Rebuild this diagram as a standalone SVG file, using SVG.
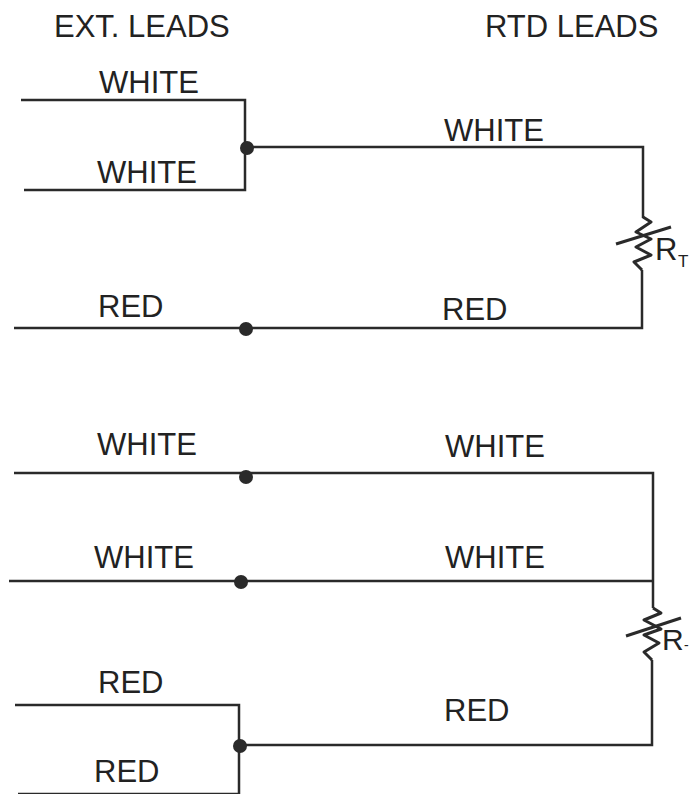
<svg xmlns="http://www.w3.org/2000/svg" width="689" height="794" viewBox="0 0 689 794">
<style>
text{font-family:"Liberation Sans",Arial,sans-serif;font-size:31px;fill:#222}
.w{fill:none;stroke:#2a2a2a;stroke-width:2.5;stroke-linejoin:miter}
.r{fill:none;stroke:#2a2a2a;stroke-width:3;stroke-linejoin:round}
.d{fill:#2a2a2a}
</style>
<rect width="689" height="794" fill="#fff"/>
<g id="connectors">
<path class="w" d="M21 100H245V190H24"/>
<path class="w" d="M245 147H643V218"/>
<path class="w" d="M642 270V328H14"/>
<path class="w" d="M14 473H653V608"/>
<path class="w" d="M9 581H653"/>
<path class="w" d="M652 660V745H240"/>
<path class="w" d="M15 705H239V794"/>
<path class="w" d="M18 794H239"/>
</g>
<g id="junctions">
<circle class="d" cx="247" cy="148" r="7"/>
<circle class="d" cx="246" cy="329" r="7"/>
<circle class="d" cx="246" cy="477" r="7"/>
<circle class="d" cx="241" cy="582" r="7"/>
<circle class="d" cx="240" cy="746" r="7"/>
</g>
<g id="rt-top">
<path class="r" d="M643 217L651 222L636 232L651 239L636 247L651 255L634 262L642 270"/>
<path class="r" d="M616 244L671 227"/>
<text x="655" y="260">R</text>
<text x="678" y="267" style="font-size:17px">T</text>
</g>
<g id="rt-bottom">
<path class="r" d="M653 608L661 613L644 620L661 629L644 635L659 643L644 652L652 660"/>
<path class="r" d="M626 636L681 618"/>
<text x="662" y="650" style="font-size:30px">R</text>
<text x="684" y="650" style="font-size:14px">-</text>
</g>
<g id="labels">
<text x="54" y="37">EXT. LEADS</text>
<text x="485" y="37">RTD LEADS</text>
<text x="99" y="93">WHITE</text>
<text x="97" y="183">WHITE</text>
<text x="444" y="141">WHITE</text>
<text x="98" y="317">RED</text>
<text x="442" y="320">RED</text>
<text x="97" y="455">WHITE</text>
<text x="445" y="457">WHITE</text>
<text x="94" y="568">WHITE</text>
<text x="445" y="568">WHITE</text>
<text x="98" y="693">RED</text>
<text x="444" y="721">RED</text>
<text x="94" y="782">RED</text>
</g>
</svg>
